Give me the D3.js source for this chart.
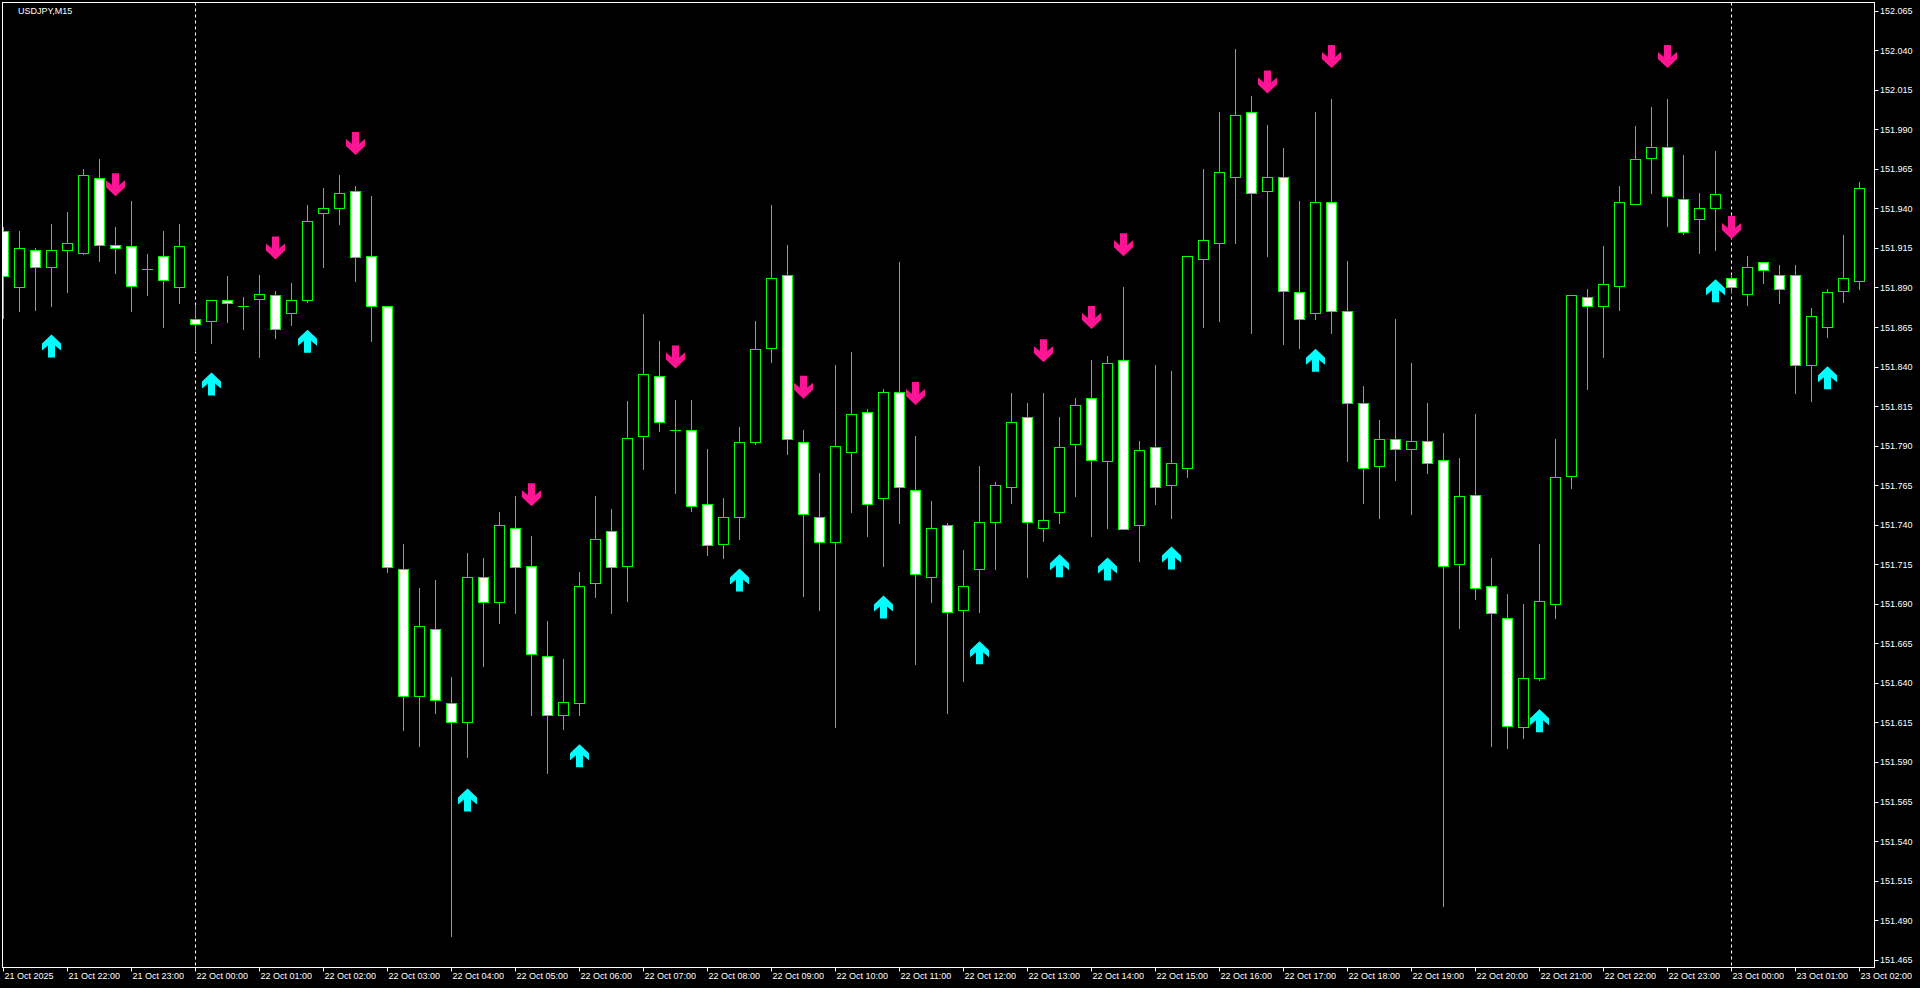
<!DOCTYPE html>
<html>
<head>
<meta charset="utf-8">
<script src="https://cdn.jsdelivr.net/npm/d3@7"></script>
<style>
  html, body { margin: 0; padding: 0; background: #000; overflow: hidden; }
  text { font-family: "Liberation Sans", Arial, sans-serif; fill: #fff; }
</style>
</head>
<body>
<div id="vis"><svg></svg></div>
<script>

// USDJPY M15, bars from 21 Oct 21:00 to 23 Oct 02:00
var opens = [
  151.926, 151.890, 151.914, 151.903, 151.914, 151.912, 151.959, 151.917, 151.916, 151.902,
  151.910, 151.890, 151.870, 151.869, 151.882, 151.878, 151.883, 151.885, 151.874, 151.882,
  151.937, 151.940, 151.951, 151.910, 151.878, 151.712, 151.632, 151.674, 151.627, 151.615,
  151.707, 151.691, 151.738, 151.714, 151.657, 151.620, 151.627, 151.703, 151.736, 151.714,
  151.796, 151.834, 151.800, 151.800, 151.753, 151.728, 151.745, 151.792, 151.852, 151.898,
  151.792, 151.745, 151.729, 151.786, 151.811, 151.757, 151.824, 151.762, 151.707, 151.740,
  151.686, 151.712, 151.742, 151.764, 151.808, 151.738, 151.748, 151.791, 151.820, 151.780,
  151.844, 151.740, 151.789, 151.765, 151.776, 151.908, 151.918, 151.960, 152.001, 151.951,
  151.960, 151.887, 151.874, 151.944, 151.875, 151.817, 151.777, 151.794, 151.788, 151.793,
  151.781, 151.715, 151.759, 151.701, 151.681, 151.612, 151.643, 151.690, 151.771, 151.884,
  151.878, 151.891, 151.943, 151.972, 151.979, 151.946, 151.933, 151.940, 151.896, 151.886,
  151.906, 151.898, 151.898, 151.841, 151.865, 151.888, 151.894
];
var highs = [
  151.928, 151.926, 151.915, 151.930, 151.938, 151.965, 151.971, 151.928, 151.945, 151.911,
  151.926, 151.930, 151.878, 151.882, 151.897, 151.884, 151.898, 151.888, 151.893, 151.942,
  151.953, 151.961, 151.954, 151.948, 151.878, 151.728, 151.700, 151.705, 151.644, 151.722,
  151.719, 151.748, 151.758, 151.733, 151.679, 151.655, 151.710, 151.758, 151.750, 151.818,
  151.873, 151.856, 151.819, 151.819, 151.788, 151.757, 151.802, 151.869, 151.942, 151.917,
  151.800, 151.773, 151.841, 151.849, 151.813, 151.826, 151.906, 151.796, 151.755, 151.741,
  151.724, 151.777, 151.767, 151.823, 151.817, 151.823, 151.808, 151.820, 151.844, 151.847,
  151.890, 151.793, 151.841, 151.837, 151.910, 151.965, 152.001, 152.041, 152.011, 151.993,
  151.978, 151.945, 152.001, 152.009, 151.907, 151.828, 151.806, 151.870, 151.842, 151.817,
  151.798, 151.782, 151.810, 151.719, 151.696, 151.690, 151.728, 151.794, 151.885, 151.889,
  151.916, 151.954, 151.992, 152.004, 152.009, 151.974, 151.950, 151.976, 151.897, 151.910,
  151.906, 151.904, 151.904, 151.877, 151.889, 151.923, 151.957
];
var lows = [
  151.871, 151.875, 151.876, 151.878, 151.887, 151.911, 151.907, 151.899, 151.875, 151.885,
  151.865, 151.880, 151.850, 151.855, 151.868, 151.864, 151.846, 151.858, 151.866, 151.881,
  151.903, 151.930, 151.894, 151.856, 151.710, 151.610, 151.600, 151.621, 151.480, 151.593,
  151.651, 151.678, 151.684, 151.620, 151.583, 151.611, 151.620, 151.694, 151.684, 151.692,
  151.775, 151.799, 151.760, 151.749, 151.721, 151.719, 151.731, 151.791, 151.843, 151.785,
  151.695, 151.686, 151.612, 151.748, 151.733, 151.714, 151.741, 151.652, 151.691, 151.621,
  151.641, 151.685, 151.712, 151.754, 151.707, 151.730, 151.741, 151.758, 151.733, 151.738,
  151.737, 151.717, 151.753, 151.744, 151.770, 151.865, 151.869, 151.918, 151.861, 151.910,
  151.854, 151.852, 151.870, 151.861, 151.780, 151.754, 151.744, 151.768, 151.747, 151.773,
  151.499, 151.675, 151.693, 151.600, 151.599, 151.605, 151.642, 151.681, 151.763, 151.826,
  151.846, 151.876, 151.943, 151.950, 151.929, 151.924, 151.912, 151.914, 151.887, 151.879,
  151.893, 151.880, 151.823, 151.818, 151.859, 151.881, 151.889
];
var closes = [
  151.897, 151.915, 151.903, 151.914, 151.918, 151.961, 151.917, 151.915, 151.891, 151.902,
  151.895, 151.916, 151.867, 151.882, 151.880, 151.878, 151.886, 151.864, 151.882, 151.932,
  151.940, 151.950, 151.909, 151.878, 151.713, 151.632, 151.676, 151.629, 151.615, 151.707,
  151.691, 151.740, 151.713, 151.658, 151.620, 151.628, 151.701, 151.731, 151.713, 151.795,
  151.835, 151.805, 151.800, 151.752, 151.727, 151.745, 151.792, 151.851, 151.896, 151.794,
  151.747, 151.729, 151.790, 151.810, 151.753, 151.824, 151.764, 151.709, 151.738, 151.685,
  151.701, 151.742, 151.765, 151.805, 151.742, 151.743, 151.789, 151.816, 151.781, 151.842,
  151.737, 151.787, 151.764, 151.779, 151.910, 151.920, 151.963, 151.999, 151.950, 151.960,
  151.888, 151.870, 151.944, 151.875, 151.817, 151.776, 151.794, 151.788, 151.793, 151.779,
  151.714, 151.758, 151.700, 151.684, 151.613, 151.643, 151.692, 151.770, 151.885, 151.878,
  151.892, 151.944, 151.971, 151.979, 151.948, 151.925, 151.940, 151.949, 151.890, 151.903,
  151.901, 151.889, 151.841, 151.872, 151.887, 151.896, 151.953
];

// signal arrows: bar index and price level of the arrow centre
var upBars   = [3, 13, 19, 29, 36, 46, 55, 61, 66, 69, 73, 82, 96, 107, 114];
var upPrices = [151.853, 151.829, 151.856, 151.566, 151.594, 151.705, 151.688, 151.659,
                151.714, 151.712, 151.719, 151.844, 151.616, 151.888, 151.833];
var downBars   = [7, 17, 22, 33, 42, 50, 57, 65, 68, 70, 79, 83, 104, 108];
var downPrices = [151.955, 151.915, 151.981, 151.759, 151.846, 151.827, 151.823, 151.850,
                  151.871, 151.917, 152.020, 152.036, 152.036, 151.928];

// time axis labels, one every 4 bars
var timeLabels = [
  "21 Oct 2025", "21 Oct 22:00", "21 Oct 23:00", "22 Oct 00:00", "22 Oct 01:00", "22 Oct 02:00",
  "22 Oct 03:00", "22 Oct 04:00", "22 Oct 05:00", "22 Oct 06:00", "22 Oct 07:00", "22 Oct 08:00",
  "22 Oct 09:00", "22 Oct 10:00", "22 Oct 11:00", "22 Oct 12:00", "22 Oct 13:00", "22 Oct 14:00",
  "22 Oct 15:00", "22 Oct 16:00", "22 Oct 17:00", "22 Oct 18:00", "22 Oct 19:00", "22 Oct 20:00",
  "22 Oct 21:00", "22 Oct 22:00", "22 Oct 23:00", "23 Oct 00:00", "23 Oct 01:00", "23 Oct 02:00"
];
var daySeparators = [12, 108];

var priceTicks = d3.range(0, 25).map(i => +(152.065 - i * 0.025).toFixed(3));

var width = 1920, height = 988;
var plot = {left: 2.5, top: 2.5, right: 1874.5, bottom: 967.5};

var svg = d3.select("#vis").select("svg")
  .attr("width", width)
  .attr("height", height);

var x = d3.scaleLinear().domain([0, 116]).range([3.5, 1859.5]);
var y = d3.scaleLinear().domain([151.465, 152.065]).range([959.7, 10.7]);
var py = p => Math.round(y(p)) + 0.5;

var bars = opens.map((o, i) => ({i: i, o: o, h: highs[i], l: lows[i], c: closes[i]}));

svg.append("clipPath").attr("id", "plotClip")
  .append("rect")
  .attr("x", plot.left).attr("y", plot.top)
  .attr("width", plot.right - plot.left).attr("height", plot.bottom - plot.top);

var g = svg.append("g").attr("clip-path", "url(#plotClip)");

// day separators
g.selectAll(".sep")
  .data(daySeparators)
  .join("line")
  .attr("class", "sep")
  .attr("x1", d => x(d)).attr("x2", d => x(d))
  .attr("y1", plot.top).attr("y2", plot.bottom)
  .attr("stroke", "#fff")
  .attr("stroke-width", 1)
  .attr("stroke-dasharray", "3,3");

// wicks
g.selectAll(".wick")
  .data(bars)
  .join("line")
  .attr("class", "wick")
  .attr("x1", d => x(d.i)).attr("x2", d => x(d.i))
  .attr("y1", d => py(d.h) - 0.5).attr("y2", d => py(d.l) + 0.5)
  .attr("stroke", "#00ff00")
  .attr("stroke-width", 1);

// bodies
var half = 5;
g.selectAll(".body")
  .data(bars.filter(d => Math.abs(py(d.o) - py(d.c)) >= 2))
  .join("rect")
  .attr("class", "body")
  .attr("x", d => x(d.i) - half)
  .attr("y", d => Math.min(py(d.o), py(d.c)))
  .attr("width", half * 2)
  .attr("height", d => Math.abs(py(d.o) - py(d.c)))
  .attr("fill", d => d.c >= d.o ? "#000" : "#fff")
  .attr("stroke", "#00ff00")
  .attr("stroke-width", 1);

// dojis
g.selectAll(".doji")
  .data(bars.filter(d => Math.abs(py(d.o) - py(d.c)) < 2))
  .join("line")
  .attr("class", "doji")
  .attr("x1", d => x(d.i) - half - 0.5).attr("x2", d => x(d.i) + half + 0.5)
  .attr("y1", d => py(d.o)).attr("y2", d => py(d.o))
  .attr("stroke", "#00ff00")
  .attr("stroke-width", 1);

// arrows
var downShape = [[-3.5,0],[3.5,0],[3.5,12],[9.5,7],[9.5,14],[0,23],[-9.5,14],[-9.5,7],[-3.5,12]]
  .map(p => [p[0], p[1] - 11.5]);
var upShape = downShape.map(p => [p[0], -p[1]]);
var line = d3.line();

g.selectAll(".up")
  .data(upBars)
  .join("path")
  .attr("class", "up")
  .attr("d", line(upShape) + "Z")
  .attr("transform", (d, k) => `translate(${x(d)}, ${y(upPrices[k])})`)
  .attr("fill", "#00ffff");

g.selectAll(".down")
  .data(downBars)
  .join("path")
  .attr("class", "down")
  .attr("d", line(downShape) + "Z")
  .attr("transform", (d, k) => `translate(${x(d)}, ${y(downPrices[k])})`)
  .attr("fill", "#ff1493");

// frame
svg.append("rect")
  .attr("x", plot.left).attr("y", plot.top)
  .attr("width", plot.right - plot.left).attr("height", plot.bottom - plot.top)
  .attr("fill", "none")
  .attr("stroke", "#fff")
  .attr("stroke-width", 1);

// price axis
var pAxis = svg.append("g");
pAxis.selectAll("line")
  .data(priceTicks)
  .join("line")
  .attr("x1", plot.right).attr("x2", plot.right + 4)
  .attr("y1", d => py(d)).attr("y2", d => py(d))
  .attr("stroke", "#fff");
pAxis.selectAll("text")
  .data(priceTicks)
  .join("text")
  .attr("x", 1880)
  .attr("y", d => y(d) + 3.5)
  .attr("font-size", "9px")
  .text(d => d.toFixed(3));

// time axis
var tAxis = svg.append("g");
tAxis.selectAll("line")
  .data(timeLabels)
  .join("line")
  .attr("x1", (d, k) => x(k * 4)).attr("x2", (d, k) => x(k * 4))
  .attr("y1", plot.bottom).attr("y2", plot.bottom + 4)
  .attr("stroke", "#fff");
tAxis.selectAll("text")
  .data(timeLabels)
  .join("text")
  .attr("x", (d, k) => x(k * 4) + 1)
  .attr("y", 979)
  .attr("font-size", "9px")
  .text(d => d);

svg.append("text")
  .attr("x", 18)
  .attr("y", 13.5)
  .attr("font-size", "9px")
  .text("USDJPY,M15");

</script>
</body>
</html>
